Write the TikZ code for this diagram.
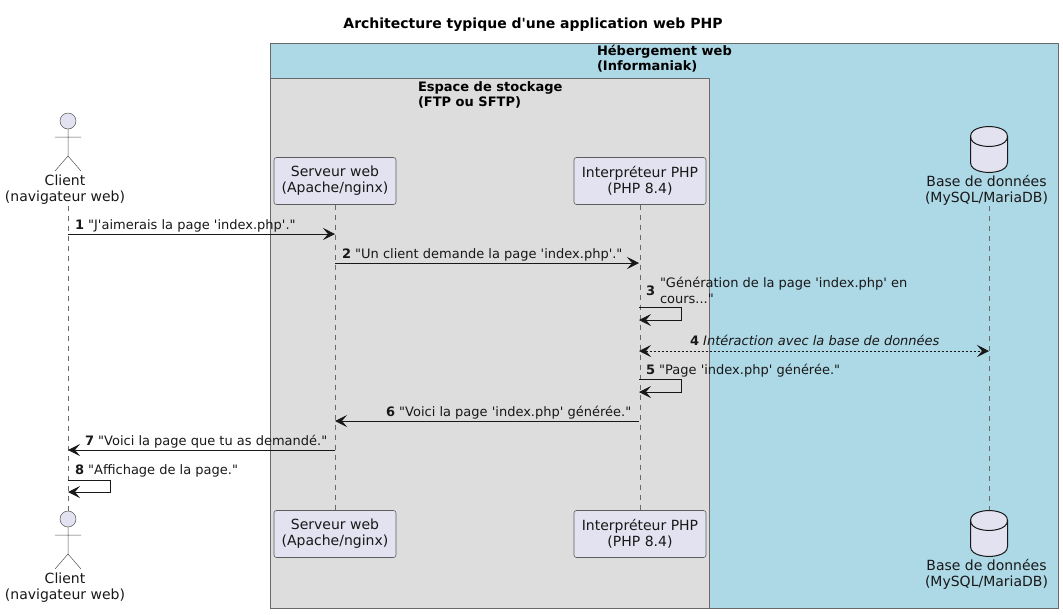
\documentclass[tikz,border=0pt]{standalone}
\usepackage{fontspec}
\setmainfont[Ligatures=TeXOff]{DejaVu Sans}
\usetikzlibrary{arrows.meta,positioning}
\definecolor{partfill}{HTML}{E2E2F0}
\definecolor{inkline}{HTML}{181818}
\definecolor{hostblue}{HTML}{ADD8E6}
\definecolor{storegrey}{HTML}{DDDDDD}
\newcommand{\stickman}[2]{
    \draw[actorline,fill=partfill] (#1,#2) circle (8);
    \draw[actorline] (#1,#2+8) -- (#1,#2+35) (#1-13,#2+16) -- (#1+13,#2+16)
        (#1-13,#2+50) -- (#1,#2+35) -- (#1+13,#2+50);
}
\newcommand{\barrel}[2]{
    \draw[barrelline,fill=partfill] (#1-18.5,#2+10) .. controls (#1-18.5,#2) and (#1,#2) .. (#1,#2)
        .. controls (#1,#2) and (#1+18.5,#2) .. (#1+18.5,#2+10) -- (#1+18.5,#2+36)
        .. controls (#1+18.5,#2+46) and (#1,#2+46) .. (#1,#2+46)
        .. controls (#1,#2+46) and (#1-18.5,#2+46) .. (#1-18.5,#2+36) -- cycle;
    \draw[barrelline] (#1-18.5,#2+10) .. controls (#1-18.5,#2+20) and (#1,#2+20) .. (#1,#2+20)
        .. controls (#1,#2+20) and (#1+18.5,#2+20) .. (#1+18.5,#2+10);
}
\begin{document}
\begin{tikzpicture}[x=1pt,y=-1pt,
    font=\fontsize{13}{16}\selectfont,
    every node/.style={inner sep=0pt,outer sep=0pt,text=inkline},
    groupbox/.style={draw=inkline!65,line width=0.8pt},
    grouptitle/.style={font=\fontsize{13}{15.5}\selectfont\bfseries,align=left,anchor=north west,text=black},
    partbox/.style={draw=inkline!70,fill=partfill,rounded corners=2.5pt,line width=0.6pt,align=center,minimum height=47pt,font=\fontsize{14}{16}\selectfont},
    partlabel/.style={align=center,font=\fontsize{14}{16}\selectfont},
    lifeline/.style={draw=inkline!65,line width=0.5pt,dash pattern=on 5pt off 5pt},
    actorline/.style={draw=inkline!75,line width=0.5pt},
    barrelline/.style={draw=inkline,line width=1pt},
    msg/.style={draw=inkline,line width=0.8pt,-{Stealth[length=12pt,width=12pt,inset=5pt]}},
    msgback/.style={msg,dash pattern=on 2pt off 2pt,{Stealth[length=12pt,width=12pt,inset=5pt]}-{Stealth[length=12pt,width=12pt,inset=5pt]}},
    msglabel/.style={anchor=base west,align=left}]
\useasboundingbox (0,0) rectangle (1063,614);

\node[font=\fontsize{14}{16}\selectfont\bfseries,text=black] (title) at (533,24.5) {Architecture typique d'une application web PHP};

\draw[groupbox,fill=hostblue] (270.5,43) rectangle (1058,608.5);
\draw[groupbox,fill=storegrey] (270.5,78) rectangle (709,608.5);
\node[grouptitle] (hosttitle) at (597,45) {Hébergement web\\(Informaniak)};
\node[grouptitle] (storetitle) at (418,81.5) {Espace de stockage\\(FTP ou SFTP)};

\node[partlabel] (client) at (65,190) {Client\\(navigateur web)};
\node[partbox,minimum width=122pt] (web) at (335,181) {Serveur web\\(Apache/nginx)};
\node[partbox,minimum width=132pt] (php) at (640,181) {Interpréteur PHP\\(PHP 8.4)};
\node[partlabel] (db) at (986.5,190) {Base de données\\(MySQL/MariaDB)};

\node[partlabel] (clientb) at (65,588) {Client\\(navigateur web)};
\node[partbox,minimum width=122pt] (webb) at (335,534) {Serveur web\\(Apache/nginx)};
\node[partbox,minimum width=132pt] (phpb) at (640,534) {Interpréteur PHP\\(PHP 8.4)};
\node[partlabel] (dbb) at (986.5,574) {Base de données\\(MySQL/MariaDB)};

\coordinate (clienttop) at (68,206);
\coordinate (clientend) at (68,511);
\coordinate (dbtop) at (989,206);
\coordinate (dbend) at (989,511);
\draw[lifeline] (clienttop) -- (clientend);
\draw[lifeline] (web.south) -- (webb.north);
\draw[lifeline] (php.south) -- (phpb.north);
\draw[lifeline] (dbtop) -- (dbend);

\stickman{68}{121}
\stickman{68}{519}
\barrel{989}{126.5}
\barrel{989}{510.5}

\coordinate (c1) at (68,234);   \coordinate (w1) at (335,234);
\coordinate (w2) at (335,263);  \coordinate (p2) at (639,263);
\coordinate (p3) at (639,307);  \coordinate (p3b) at (639,320);
\coordinate (p4) at (639,351);  \coordinate (d4) at (989,351);
\coordinate (p5) at (639,379);  \coordinate (p5b) at (639,392);
\coordinate (p6) at (639,421);  \coordinate (w6) at (335,421);
\coordinate (w7) at (335,450);  \coordinate (c7) at (68,450);
\coordinate (c8) at (68,480);   \coordinate (c8b) at (68,492);

\draw[msg] (c1) -- (w1);
\draw[msg] (w2) -- (p2);
\draw[msg] (p3) -- ++(42.5,0) |- (p3b);
\draw[msgback] (p4) -- (d4);
\draw[msg] (p5) -- ++(42.5,0) |- (p5b);
\draw[msg] (p6) -- (w6);
\draw[msg] (w7) -- (c7);
\draw[msg] (c8) -- ++(42,0) |- (c8b);

\node[msglabel] (m1) at (75,229.5) {\textbf{1} "J'aimerais la page 'index.php'."};
\node[msglabel] (m2) at (342,258.5) {\textbf{2} "Un client demande la page 'index.php'."};
\node[msglabel] (m3n) at (646,295) {\textbf{3}};
\node[msglabel] (m3) at (660,303.5) {"Génération de la page 'index.php' en\\cours..."};
\node[msglabel] (m4) at (690,345.5) {\textbf{4} \textit{Intéraction avec la base de données}};
\node[msglabel] (m5) at (646,374.5) {\textbf{5} "Page 'index.php' générée."};
\node[msglabel] (m6) at (386,416.5) {\textbf{6} "Voici la page 'index.php' générée."};
\node[msglabel] (m7) at (85,445.5) {\textbf{7} "Voici la page que tu as demandé."};
\node[msglabel] (m8) at (75,474.5) {\textbf{8} "Affichage de la page."};
\end{tikzpicture}
\end{document}
